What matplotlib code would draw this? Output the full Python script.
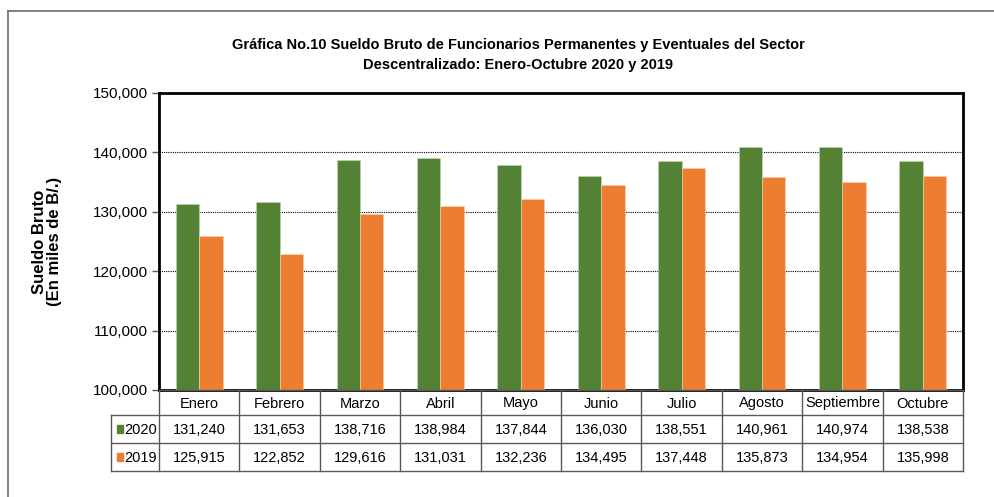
import numpy as np
import matplotlib.pyplot as plt
from matplotlib.lines import Line2D
from matplotlib.patches import Rectangle
from matplotlib.ticker import FuncFormatter

months = ["Enero", "Febrero", "Marzo", "Abril", "Mayo", "Junio",
          "Julio", "Agosto", "Septiembre", "Octubre"]
sueldo_2020 = [131240, 131653, 138716, 138984, 137844, 136030,
               138551, 140961, 140974, 138538]
sueldo_2019 = [125915, 122852, 129616, 131031, 132236, 134495,
               137448, 135873, 134954, 135998]
series_names = ["2020", "2019"]
colors = ["#548235", "#ED7D31"]

plt.rcParams['font.family'] = ['Liberation Sans Narrow', 'Liberation Sans', 'DejaVu Sans']

W, H = 995, 497
fig = plt.figure(figsize=(W / 100, H / 100), dpi=100)


def fx(px):
    return px / W


def fy(py):
    return 1 - py / H


# outer chart border (only top and left visible)
fig.add_artist(Line2D([fx(8), fx(995)], [fy(11), fy(11)], color="#6b6b6b", lw=1.2))
fig.add_artist(Line2D([fx(8), fx(8)], [fy(11), fy(497)], color="#6b6b6b", lw=1.2))

# ---- main bar axes ----
ax = fig.add_axes([fx(159), fy(390), fx(963) - fx(159), fy(93) - fy(390)])
x = np.arange(len(months))
bw = 0.29
ax.bar(x - bw / 2, sueldo_2020, bw, color=colors[0], edgecolor="#c4d6b5", linewidth=0.4, zorder=3)
ax.bar(x + bw / 2, sueldo_2019, bw, color=colors[1], edgecolor="#f8d2b8", linewidth=0.4, zorder=3)
ax.set_xlim(-0.5, len(months) - 0.5)
ax.set_ylim(100000, 150000)
ax.set_yticks(range(100000, 150001, 10000))
ax.yaxis.set_major_formatter(FuncFormatter(lambda v, p: f"{v:,.0f}"))
ax.grid(axis="y", color="black", linestyle=(0, (1, 1)), linewidth=0.8, zorder=0)
ax.set_xticks([])
ax.tick_params(axis="y", length=5, width=1, color="#595959", labelsize=11, pad=3)
for s in ax.spines.values():
    s.set_linewidth(2)
    s.set_color("black")

ax.set_ylabel("Sueldo Bruto\n(En miles de B/.)", fontsize=12, fontweight="bold",
              family=["Liberation Sans", "DejaVu Sans"], labelpad=22, linespacing=1.0)

fig.text(fx(518), fy(55), "Gráfica No.10 Sueldo Bruto de Funcionarios Permanentes y Eventuales del Sector\n"
         "Descentralizado: Enero-Octubre 2020 y 2019",
         ha="center", va="center", fontsize=10.5, fontweight="bold", linespacing=1.55)

# ---- data table under the axes ----
tab = fig.add_axes([fx(159), fy(471), fx(963) - fx(159), fy(390) - fy(471)])
tab.set_xlim(-0.5, len(months) - 0.5)
row_edges = [0, 25, 53, 81]
tab.set_ylim(81, 0)
tab.axis("off")
gc = "#595959"
left = (111 - 159) / ((963 - 159) / len(months)) - 0.5

# horizontal lines
tab.plot([-0.5, 9.5], [row_edges[0], row_edges[0]], color=gc, lw=1, clip_on=False)
for yv in row_edges[1:]:
    tab.plot([left, 9.5], [yv, yv], color=gc, lw=1, clip_on=False)
# vertical lines
for xv in np.arange(-0.5, len(months), 1.0):
    tab.plot([xv, xv], [0, 81], color=gc, lw=1, clip_on=False)
tab.plot([left, left], [25, 81], color=gc, lw=1, clip_on=False)

fs = 10.5
for i, m in enumerate(months):
    tab.text(i, 17.5, m, ha="center", va="baseline", fontsize=fs, clip_on=False)
    tab.text(i, 44, f"{sueldo_2020[i]:,}", ha="center", va="baseline", fontsize=fs, clip_on=False)
    tab.text(i, 72, f"{sueldo_2019[i]:,}", ha="center", va="baseline", fontsize=fs, clip_on=False)

for r, (name, c) in enumerate(zip(series_names, colors)):
    yc = 39 + r * 28
    tab.add_patch(Rectangle((left + 0.07, yc - 4), 0.08, 8, color=c, clip_on=False))
    tab.text(left + 0.16, yc + 5, name, ha="left", va="baseline", fontsize=fs, clip_on=False)

fig.savefig("out.png", dpi=100)
